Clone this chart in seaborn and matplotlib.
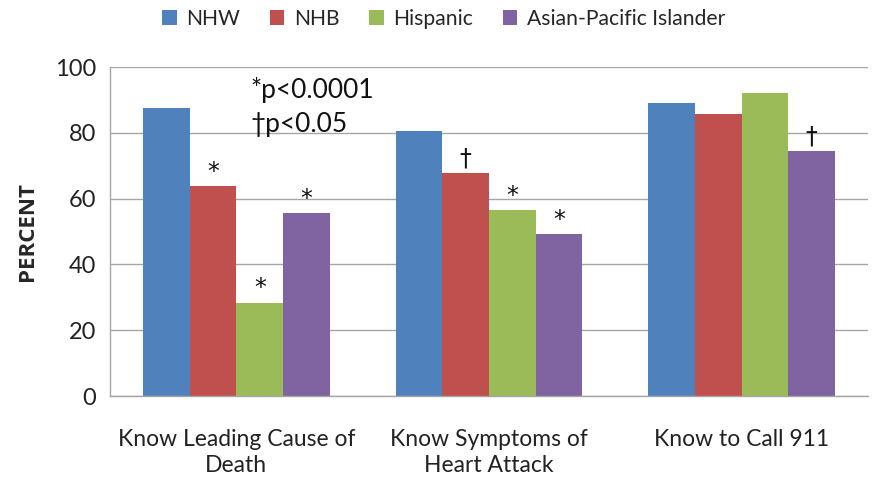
import matplotlib
matplotlib.use("Agg")
import matplotlib.pyplot as plt
import seaborn as sns
import pandas as pd
import numpy as np

categories = ["Know Leading Cause of\nDeath", "Know Symptoms of\nHeart Attack", "Know to Call 911"]
groups = ["NHW", "NHB", "Hispanic", "Asian-Pacific Islander"]
nhw = [87.5, 80.5, 89.0]
nhb = [63.8, 67.8, 85.7]
hispanic = [28.3, 56.5, 92.1]
api = [55.6, 49.2, 74.5]
marks_nhw = ["", "", ""]
marks_nhb = ["*", "†", ""]
marks_hispanic = ["*", "*", ""]
marks_api = ["*", "*", "†"]
colors = ["#4F81BD", "#C0504D", "#9BBB59", "#8064A2"]

rows = []
for g, vals, mk in zip(groups, [nhw, nhb, hispanic, api],
                       [marks_nhw, marks_nhb, marks_hispanic, marks_api]):
    for c, v, m in zip(categories, vals, mk):
        rows.append({"cat": c, "group": g, "value": v, "mark": m})
df = pd.DataFrame(rows)

sns.set_style("white")
plt.rcParams["font.family"] = ["Lato", "DejaVu Sans"]

fig = plt.figure(figsize=(8.74, 4.83), dpi=100)
ax = fig.add_axes([0.126, 0.180, 0.867, 0.681])

sns.barplot(data=df, x="cat", y="value", hue="group", order=categories,
            hue_order=groups, palette=colors, width=0.74, gap=0,
            saturation=1, ax=ax, legend=True, edgecolor="none")

ax.set_ylim(0, 100)
ax.set_xlim(-0.5, 2.5)
ax.set_yticks([0, 20, 40, 60, 80, 100])
ax.yaxis.grid(True, color="#a6a6a6", linewidth=1)
ax.set_axisbelow(True)
for s in ["top", "right"]:
    ax.spines[s].set_visible(False)
for s in ["left", "bottom"]:
    ax.spines[s].set_color("#a6a6a6")
    ax.spines[s].set_linewidth(1)

ax.set_xticks([0, 1, 2])
ax.set_xticklabels(categories, fontsize=16.5, color="#222222", linespacing=1.25)
ax.set_xticks([0.5, 1.5], minor=True)
ax.tick_params(axis="x", which="major", length=0, pad=24)
ax.tick_params(axis="x", which="minor", length=6, color="#a6a6a6", direction="out")
ax.tick_params(axis="y", length=6, color="#a6a6a6", direction="out", labelsize=17,
               labelcolor="#222222", pad=4)
ax.set_xlabel("")
ax.set_ylabel("PERCENT", fontsize=16, fontweight="bold", labelpad=12,
              family=["Open Sans", "DejaVu Sans"])

# significance marks
for cont, g in zip(ax.containers, groups):
    sub = df[df.group == g].set_index("cat").loc[categories]
    for bar, m in zip(cont, sub["mark"]):
        if m:
            x = bar.get_x() + bar.get_width() / 2
            y = bar.get_height()
            ax.text(x, y + 0.8, m, ha="center", va="bottom", fontsize=17,
                    color="#111111", family=["DejaVu Sans"])

ax.text(0.185, 0.93, "*p<0.0001", transform=ax.transAxes, fontsize=19,
        ha="left", va="center", color="#111111")
ax.text(0.185, 0.827, "†p<0.05", transform=ax.transAxes, fontsize=19,
        ha="left", va="center", color="#111111")

ax.legend(loc="upper center", bbox_to_anchor=(0.44, 1.235), ncol=4, frameon=False,
          fontsize=15.2, handlelength=0.7, handleheight=0.7, handletextpad=0.45,
          columnspacing=1.4)

fig.savefig("out.png", dpi=100)
